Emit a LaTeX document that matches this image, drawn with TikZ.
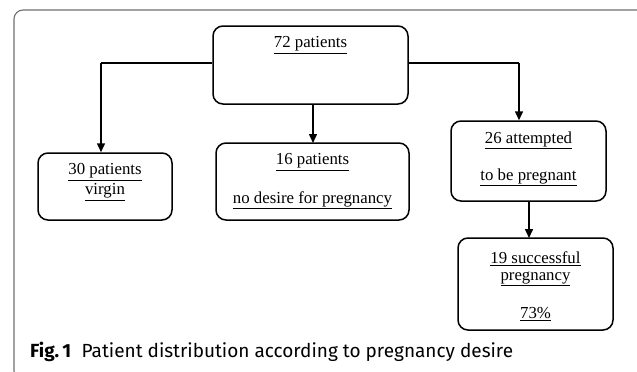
\documentclass[tikz,border=0pt]{standalone}
\usepackage{fontspec}
\setmainfont{Liberation Serif}
\newfontfamily\capfont{Fira Sans}
\usetikzlibrary{arrows.meta}
\definecolor{framegray}{HTML}{6E6E6E}
\tikzset{
  flowbox/.style={draw=black, line width=1.5pt, rounded corners=10pt, inner sep=0pt},
  boxtext/.style={inner sep=0pt, font=\fontsize{16.8}{18}\selectfont, anchor=center},
  flowarrow/.style={draw=black, line width=1.5pt, -{Triangle[width=8pt,length=9pt]}},
  flowline/.style={draw=black, line width=1.5pt},
}
\newcommand{\ul}[1]{\underline{#1}}
\begin{document}
\begin{tikzpicture}[x=1pt,y=-1pt]
\useasboundingbox (0,0) rectangle (637,372);
% outer frame
\draw[framegray, line width=1.1pt, rounded corners=9pt] (14,10) rectangle (646,380);
% boxes
\node[flowbox, minimum width=195pt, minimum height=78pt] (top) at (310.5,65) {};
\node[flowbox, minimum width=134pt, minimum height=67pt] (virgin) at (105,186.5) {};
\node[flowbox, minimum width=193pt, minimum height=77pt] (nodesire) at (312.5,181.5) {};
\node[flowbox, minimum width=155pt, minimum height=80pt] (attempt) at (528.5,161) {};
\node[flowbox, minimum width=155pt, minimum height=92pt] (success) at (535.5,284) {};
% texts
\node[boxtext] (t72) at (310.5,45) {\ul{72 patients}};
\node[boxtext] (t30) at (105,172) {\ul{30 patients}};
\node[boxtext] (tvirgin) at (105,192) {\ul{virgin}};
\node[boxtext] (t16) at (312.5,162) {\ul{16 patients}};
\node[boxtext] (tnodes) at (312.5,200) {\ul{no desire for pregnancy}};
\node[boxtext] (t26) at (528.5,140) {\ul{26 attempted}};
\node[boxtext] (tbe) at (528.5,177) {\ul{to be pregnant}};
\node[boxtext] (t19) at (535.5,259) {\ul{19 successful}};
\node[boxtext] (tpreg) at (535.5,279) {\ul{pregnancy}};
\node[boxtext] (t73) at (535.5,314) {\ul{73\%}};
% connectors
\coordinate (lc) at (101,63);
\coordinate (rc) at (519,63);
\draw[flowline] (top.west |- lc) -- (lc);
\draw[flowarrow] (lc) -- (lc |- virgin.north);
\draw[flowarrow] (313,104) -- (313,143);
\draw[flowline] (top.east |- rc) -- (rc);
\draw[flowarrow] (rc) -- (rc |- attempt.north);
\draw[flowarrow] (529,201) -- (529,238);
% caption
\node[anchor=base west, inner sep=0pt, font=\capfont\fontsize{19}{21}\selectfont] (cap) at (30,357)
  {\textbf{Fig.\,1}\hspace{0.55em}Patient distribution according to pregnancy desire};
\end{tikzpicture}
\end{document}
